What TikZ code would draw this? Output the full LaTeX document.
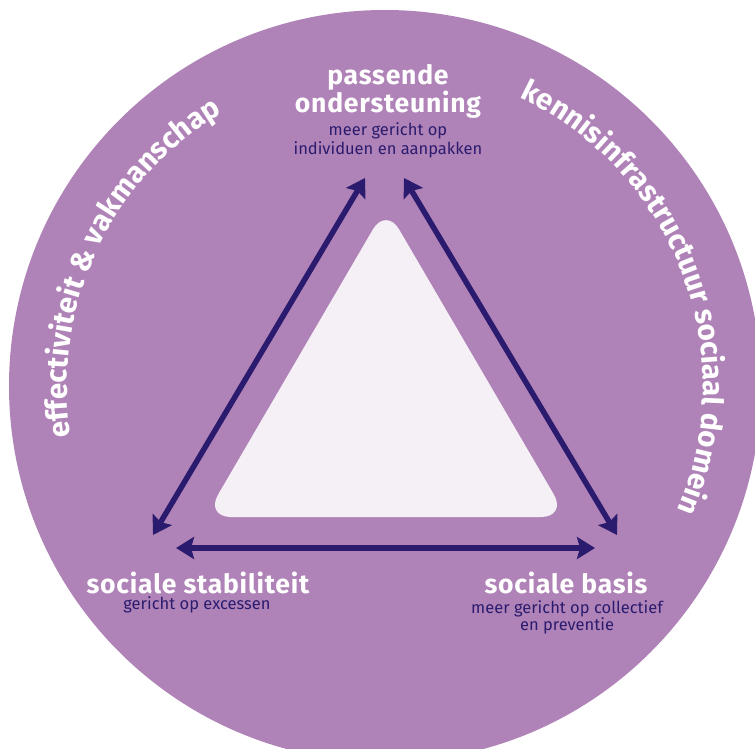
\documentclass[tikz,border=0pt]{standalone}
\usepackage{fontspec}
\setmainfont{Fira Sans}
\newfontfamily\headfam[LetterSpace=3]{Fira Sans}
\usetikzlibrary{arrows.meta,decorations.text}
\definecolor{circ}{HTML}{B083B8}
\definecolor{navy}{HTML}{2B1B6E}
\definecolor{tri}{HTML}{F5EFF6}
\newcommand\curvefont{\bfseries\fontsize{29.5}{29.5}\selectfont}
\begin{document}
\begin{tikzpicture}[x=1pt,y=1pt,
 head/.style={text=white,font=\headfam\bfseries\fontsize{26.5}{26.5}\selectfont,anchor=base,inner sep=0pt},
 sub/.style={text=navy,font=\fontsize{16.5}{16.5}\selectfont,anchor=base,inner sep=0pt},
 arr/.style={draw=navy,line width=5.5pt,{Stealth[length=18pt,width=22pt,inset=3pt]}-{Stealth[length=18pt,width=22pt,inset=3pt]}}]
\useasboundingbox (0,0) rectangle (755,-749);
\clip (0,0) rectangle (755,-749);
\fill[white] (0,0) rectangle (755,-749);
\coordinate (C) at (385,-386);
\fill[circ] (C) circle[radius=376];
\fill[tri, rounded corners=26pt] (386,-207) -- (567,-517) -- (205,-517) -- cycle;
\coordinate (L1) at (153,-535);
\coordinate (L2) at (365,-178);
\coordinate (R1) at (404,-178);
\coordinate (R2) at (617,-535);
\coordinate (B1) at (176,-548);
\coordinate (B2) at (595,-548);
\draw[arr] (L1) -- (L2);
\draw[arr] (R1) -- (R2);
\draw[arr] (B1) -- (B2);
\node[head] (p1) at (388,-85) {passende};
\node[head] (p2) at (388,-113) {ondersteuning};
\node[sub] (p3) at (388,-136) {meer gericht op};
\node[sub] (p4) at (388,-155) {individuen en aanpakken};
\node[head] (s1) at (198,-593) {sociale stabiliteit};
\node[sub] (s2) at (197,-609) {gericht op excessen};
\node[head] (b1) at (566,-593) {sociale basis};
\node[sub] (b2) at (567,-613) {meer gericht op collectief};
\node[sub] (b3) at (567,-630) {en preventie};
\path[decorate, decoration={text along path, text align=center, text color=white,
  text={|\curvefont|effectiviteit {\&} vakmanschap}}]
  ([shift={(220:318)}]C) arc[start angle=220, end angle=90, radius=318];
\path[decorate, decoration={text along path, text align=center, text color=white,
  text={|\curvefont|kennisinfrastructuur sociaal domein}}]
  ([shift={(86:318)}]C) arc[start angle=86, end angle=-44, radius=318];
\end{tikzpicture}
\end{document}
